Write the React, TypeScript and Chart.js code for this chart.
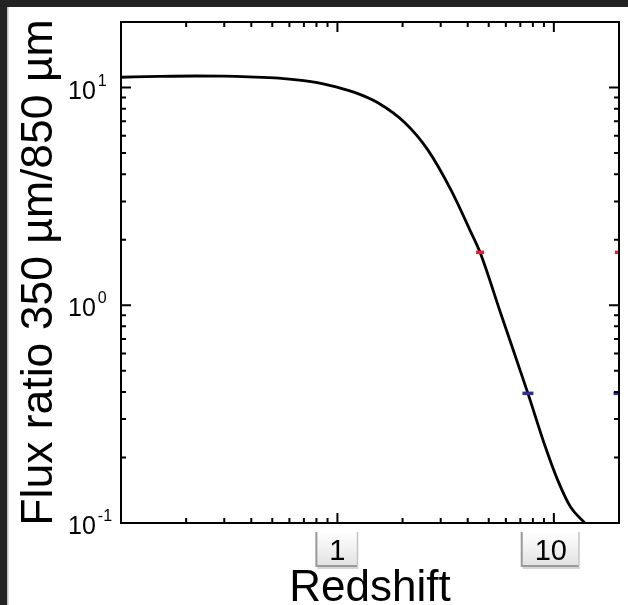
import { useEffect, useRef } from "react";
import { Chart, registerables } from "chart.js";

Chart.register(...registerables);

// ---- data ----
const redshift = [0.1, 0.15, 0.22, 0.3, 0.39, 0.535, 0.7, 0.909, 1.2, 1.545, 2.056, 2.62, 3.35, 4.1, 4.56, 5.7, 7.59, 9.09, 10.43, 11.97, 13.9];
const fluxRatio = [11.15, 11.25, 11.3, 11.28, 11.2, 11.05, 10.75, 10.27, 9.5, 8.49, 6.87, 5.16, 3.38, 2.21, 1.75, 0.909, 0.394, 0.227, 0.157, 0.118, 0.1];

const redMarkX = [4.56, 20];
const redMarkY = [1.75, 1.75];
const blueMarkX = [7.59, 20];
const blueMarkY = [0.394, 0.394];

const xTickValues = [1, 10];
const xTickLabels = ["1", "10"];
const yTickValues = [0.1, 1, 10];
const yTickExponents = ["-1", "0", "1"];
const minorMultipliers = [2, 3, 4, 5, 6, 7, 8, 9];
const decades = [0.1, 1, 10];

const FONT = "'Liberation Sans', Arial, Helvetica, sans-serif";
const W = 628;
const H = 605;

const backgroundPlugin = {
  id: "bg",
  beforeDraw(chart: any) {
    const ctx = chart.ctx;
    ctx.save();
    ctx.fillStyle = "#ffffff";
    ctx.fillRect(0, 0, chart.width, chart.height);
    ctx.fillStyle = "#232323";
    ctx.fillRect(0, 0, chart.width, 7);
    ctx.fillRect(0, 0, 7, chart.height);
    ctx.fillStyle = "#bdbdbd";
    ctx.fillRect(7, 7, 1.5, chart.height - 7);
    ctx.restore();
  },
};

const framePlugin = {
  id: "frame",
  afterDatasetsDraw(chart: any) {
    const { ctx, chartArea: a, scales } = chart;
    const xs = scales.x;
    const ys = scales.y;
    ctx.save();
    ctx.strokeStyle = "#000";
    ctx.lineWidth = 2;
    ctx.lineCap = "butt";
    ctx.strokeRect(a.left, a.top, a.right - a.left, a.bottom - a.top);

    const drawX = (v: number, len: number) => {
      if (v < xs.min || v > xs.max) return;
      const px = xs.getPixelForValue(v);
      ctx.beginPath();
      ctx.moveTo(px, a.bottom);
      ctx.lineTo(px, a.bottom - len);
      ctx.moveTo(px, a.top);
      ctx.lineTo(px, a.top + len);
      ctx.stroke();
    };
    const drawY = (v: number, len: number) => {
      if (v < ys.min || v > ys.max) return;
      const py = ys.getPixelForValue(v);
      ctx.beginPath();
      ctx.moveTo(a.left, py);
      ctx.lineTo(a.left + len, py);
      ctx.moveTo(a.right, py);
      ctx.lineTo(a.right - len, py);
      ctx.stroke();
    };
    decades.forEach((d) => {
      minorMultipliers.forEach((m) => {
        drawX(d * m, 5);
        drawY(d * m, 5);
      });
    });
    xTickValues.forEach((v) => drawX(v, 10));
    yTickValues.forEach((v) => drawY(v, 10));

    // y tick labels 10^n
    ctx.fillStyle = "#000";
    ctx.textAlign = "left";
    ctx.textBaseline = "alphabetic";
    yTickValues.forEach((v, i) => {
      const py = ys.getPixelForValue(v);
      const x0 = a.left - 53;
      ctx.font = `25px ${FONT}`;
      ctx.fillText("10", x0, py + 11);
      const w = ctx.measureText("10").width;
      ctx.font = `16px ${FONT}`;
      ctx.fillText(yTickExponents[i], x0 + w + 2, py - 2);
    });

    // x tick labels inside little framed boxes
    xTickValues.forEach((v, i) => {
      const px = xs.getPixelForValue(v);
      const label = xTickLabels[i];
      ctx.font = `29px ${FONT}`;
      const tw = ctx.measureText(label).width;
      const cx = label.length > 1 ? px - 3 : px;
      const left = cx - tw / 2 - 13;
      const right = cx + tw / 2 + 12;
      const top = a.bottom + 9;
      const bottom = a.bottom + 43;
      const g = ctx.createLinearGradient(0, top, 0, bottom);
      g.addColorStop(0, "#ffffff");
      g.addColorStop(1, "#e2e2e2");
      ctx.fillStyle = g;
      ctx.fillRect(left, top, right - left, bottom - top);
      ctx.lineWidth = 2;
      ctx.strokeStyle = "#999999";
      ctx.beginPath();
      ctx.moveTo(left, top);
      ctx.lineTo(left, bottom);
      ctx.lineTo(right, bottom);
      ctx.stroke();
      ctx.lineWidth = 1.5;
      ctx.strokeStyle = "#c4c4c4";
      ctx.beginPath();
      ctx.moveTo(right, bottom);
      ctx.lineTo(right, top);
      ctx.stroke();
      ctx.lineWidth = 2;
      ctx.strokeStyle = "rgba(150,150,150,0.4)";
      ctx.beginPath();
      ctx.moveTo(left + 1, bottom + 2);
      ctx.lineTo(right + 1, bottom + 2);
      ctx.stroke();
      ctx.fillStyle = "#000";
      ctx.textAlign = "center";
      ctx.fillText(label, cx, a.bottom + 37);
    });
    ctx.restore();
  },
};

export default function App() {
  const ref = useRef<HTMLCanvasElement | null>(null);

  useEffect(() => {
    document.documentElement.style.overflow = "hidden";
    document.body.style.margin = "0";
    const canvas = ref.current;
    if (!canvas) return;
    const chart = new Chart(canvas, {
      type: "line",
      data: {
        datasets: [
          {
            label: "ratio",
            data: redshift.map((x, i) => ({ x, y: fluxRatio[i] })),
            borderColor: "#000",
            borderWidth: 2.8,
            pointRadius: 0,
            cubicInterpolationMode: "monotone",
            fill: false,
            order: 2,
          },
          {
            label: "red",
            type: "scatter",
            data: redMarkX.map((x, i) => ({ x, y: redMarkY[i] })),
            pointStyle: "line",
            pointRadius: 4,
            borderColor: "#e3222b",
            backgroundColor: "#e3222b",
            borderWidth: 3.5,
            clip: 1,
            order: 1,
          },
          {
            label: "blue",
            type: "scatter",
            data: blueMarkX.map((x, i) => ({ x, y: blueMarkY[i] })),
            pointStyle: "line",
            pointRadius: 5.5,
            borderColor: "#2e2e96",
            backgroundColor: "#2e2e96",
            borderWidth: 3.5,
            clip: 1,
            order: 1,
          },
        ] as any,
      },
      options: {
        animation: false,
        responsive: false,
        devicePixelRatio: 1,
        layout: { padding: { top: 22, right: 7, left: 8, bottom: 0 } },
        plugins: { legend: { display: false }, tooltip: { enabled: false } },
        scales: {
          x: {
            type: "logarithmic",
            min: 0.1,
            max: 20,
            grid: { display: false },
            border: { display: false },
            ticks: { display: false },
            title: {
              display: true,
              text: "Redshift",
              color: "#000",
              font: { family: FONT, size: 44, lineHeight: 1 },
              padding: { top: 0, bottom: -6 },
            },
            afterFit(s: any) {
              s.height = 82;
            },
          },
          y: {
            type: "logarithmic",
            min: 0.1,
            max: 20,
            grid: { display: false },
            border: { display: false },
            ticks: { display: false },
            title: {
              display: true,
              text: "Flux ratio 350 µm/850 µm",
              color: "#000",
              font: { family: FONT, size: 44.5, lineHeight: 1 },
              padding: { top: 9, bottom: 0 },
            },
            afterFit(s: any) {
              s.width = 113;
            },
          },
        },
      } as any,
      plugins: [backgroundPlugin, framePlugin],
    });
    return () => chart.destroy();
  }, []);

  return (
    <div style={{ position: "fixed", left: 0, top: 0, width: W, height: H, overflow: "hidden" }}>
      <canvas ref={ref} width={W} height={H} style={{ display: "block", width: W, height: H }} />
    </div>
  );
}
